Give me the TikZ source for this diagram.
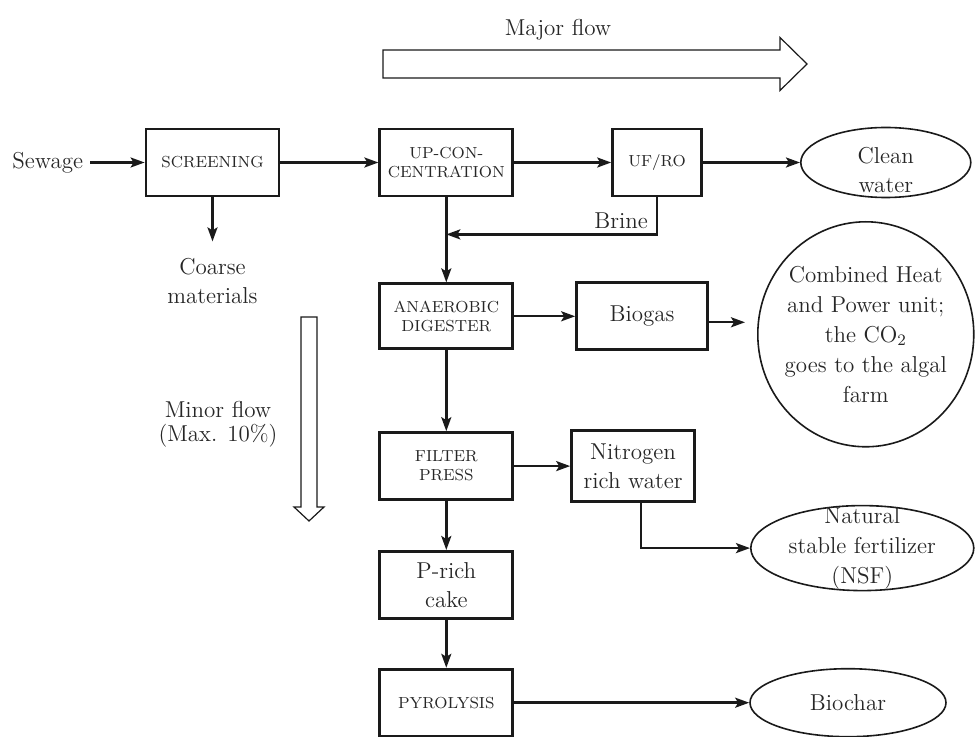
\documentclass[tikz,border=0pt]{standalone}
\usepackage{xcolor}
\usetikzlibrary{arrows.meta, positioning, shapes.geometric}
\definecolor{cline}{HTML}{1a1a1a}
\definecolor{ctext}{HTML}{262626}

\begin{document}
\begin{tikzpicture}[
  x=1pt, y=1pt,
  font=\fontsize{11.5}{14.5}\selectfont,
  text=ctext,
  >={Stealth[length=7pt, width=5pt, inset=1.5pt]},
  box/.style={draw=cline, line width=1.4pt, align=center, minimum width=66.5pt,
              minimum height=33.5pt, inner sep=2pt},
  caps/.style={box, font=\fontsize{8}{9.5}\selectfont},
  oval/.style={draw=cline, ellipse, line width=0.8pt, inner sep=0pt},
  txt/.style={align=center},
  arr/.style={->, line width=1.2pt, draw=cline},
  hollow/.style={draw=cline, line width=0.6pt, fill=white},
  ]
\useasboundingbox (0,0) rectangle (488,-368.5);

\node[caps] (screen) at (106.25,-81.25) {SCREENING};
\node[caps, right=49pt of screen] (upcon) {UP-CON-\\CENTRATION};
\node[caps, right=48.5pt of upcon, minimum width=44.5pt] (ufro) {UF/RO};
\node[oval, right=48.5pt of ufro, minimum width=85pt, minimum height=35pt,
      label={[txt, yshift=-4pt]center:{Clean\\water}}] (clean) {};
\node[txt, left=27.2pt of screen] (sewage) {Sewage};
\node[txt, below=27pt of screen] (coarse) {Coarse\\materials};

\node[caps, below=42.5pt of upcon, minimum height=32.5pt] (ad) {ANAEROBIC\\DIGESTER};
\node[box, right=30.5pt of ad, minimum width=65.5pt] (biogas) {Biogas};
\node[oval, right=24pt of biogas, yshift=-9pt, minimum width=108pt, minimum height=112.5pt,
      label={[txt, font=\fontsize{11.5}{15}\selectfont]center:{Combined Heat\\and Power unit;\\the CO$_2$\\goes to the algal\\farm}}] (chp) {};

\node[caps, below=40.5pt of ad] (fp) {FILTER\\PRESS};
\node[box, right=28pt of fp, minimum width=61.5pt, minimum height=35.5pt] (nitro) {Nitrogen\\rich water};
\node[oval, right=27pt of nitro, yshift=-41pt, minimum width=111.5pt, minimum height=42.5pt,
      label={[txt, font=\fontsize{11.5}{15}\selectfont]center:{Natural\\stable fertilizer\\(NSF)}}] (nsf) {};
\node[box, below=24.5pt of fp] (prich) {P-rich\\cake};
\node[caps, below=24pt of prich] (pyro) {PYROLYSIS};
\node[oval, right=117.5pt of pyro, minimum width=98pt, minimum height=34pt] (biochar) {Biochar};

\coordinate[below=18.5pt of ufro.south] (bend);
\coordinate (brinein) at (bend -| upcon.south);

\draw[arr] (sewage) -- (screen);
\draw[arr] (screen) -- (upcon);
\draw[arr] (upcon) -- (ufro);
\draw[arr] (ufro) -- (clean);
\draw[arr, shorten >=5pt] (screen) -- (coarse);
\draw[arr] (ufro.south) -- (bend) node[above left, inner sep=2pt, xshift=-2pt] (brine) {Brine} -- (brinein);
\draw[arr] (upcon) -- (ad);
\draw[arr] (ad.east) -- (ad.east -| biogas.west);
\draw[arr, shorten >=6pt] ([yshift=-3pt]biogas.east) -- ([yshift=-3pt]biogas.east -| chp.west);
\draw[arr] (ad) -- (fp);
\draw[arr] (fp.east) -- (fp.east -| nitro.west);
\draw[arr] ([xshift=4pt]nitro.south) |- (nsf.west);
\draw[arr] (fp) -- (prich);
\draw[arr] (prich) -- (pyro);
\draw[arr] (pyro) -- (biochar);

\draw[hollow] (191.5,-25) -- (390,-25) -- (390,-18.75) -- (403.5,-32) -- (390,-45.25)
  -- (390,-39) -- (191.5,-39) -- cycle;
\node (major) at (279,-15) {Major flow};
\draw[hollow] (150.5,-158.5) -- (158.5,-158.5) -- (158.5,-253.5) -- (162,-253.5)
  -- (154.5,-260.5) -- (147,-253.5) -- (150.5,-253.5) -- cycle;
\node[txt, font=\fontsize{11.5}{12}\selectfont] (minor) at (109,-212) {Minor flow\\(Max. 10\%)};
\end{tikzpicture}
\end{document}
